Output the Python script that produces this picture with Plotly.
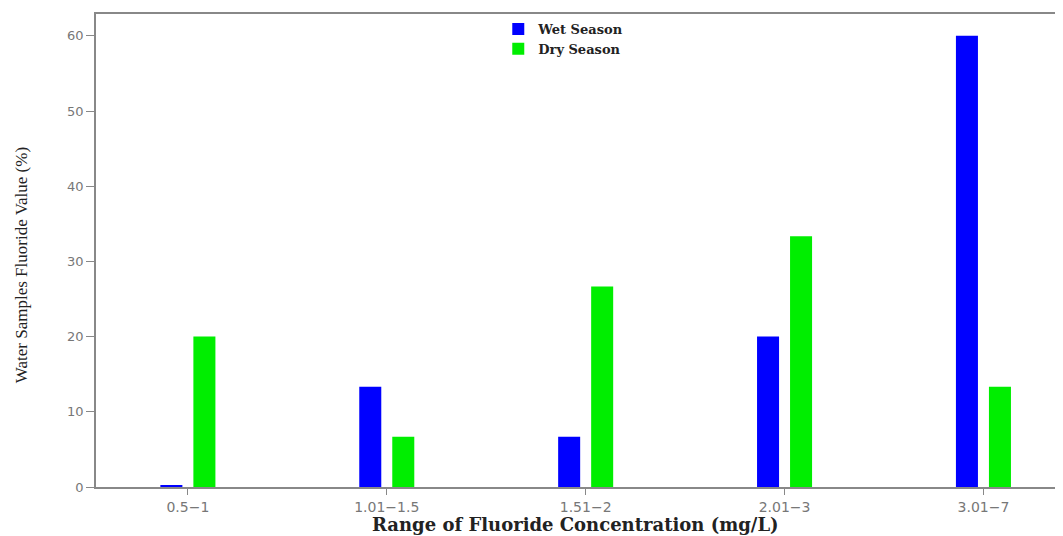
import plotly.graph_objects as go

categories = ["0.5\u22121", "1.01\u22121.5", "1.51\u22122", "2.01\u22123", "3.01\u22127"]
wet_season = [0.2, 13.33, 6.67, 20.0, 60.0]
dry_season = [20.0, 6.67, 26.67, 33.33, 13.33]
y_ticks = [0, 10, 20, 30, 40, 50, 60]

fig = go.Figure()
fig.add_trace(go.Bar(x=categories, y=wet_season, name="Wet Season",
                     marker=dict(color="#0000ff", line=dict(width=0))))
fig.add_trace(go.Bar(x=categories, y=dry_season, name="Dry Season",
                     marker=dict(color="#00ee00", line=dict(width=0))))

fig.update_layout(
    width=1055, height=528,
    margin=dict(l=88, r=0, t=6, b=49),
    paper_bgcolor="white", plot_bgcolor="white",
    barmode="group", bargap=0.668, bargroupgap=0.333,
    showlegend=True,
    legend=dict(x=0.416, y=1.0, xanchor="left", yanchor="top",
                font=dict(family="DejaVu Serif", size=13, color="#222", weight="bold"),
                bgcolor="rgba(0,0,0,0)", itemwidth=30, tracegroupgap=0,
                traceorder="normal"),
    xaxis=dict(
        range=[-0.462, 4.40], automargin=False,
        showline=True, linecolor="#888", linewidth=1.5, mirror=True,
        ticks="outside", ticklen=6, tickcolor="#888",
        tickfont=dict(family="DejaVu Sans", size=14, color="#777"),
        showgrid=False, zeroline=False,
    ),
    yaxis=dict(
        range=[0, 62.9], tickvals=y_ticks, automargin=False,
        showline=True, linecolor="#888", linewidth=1.5,
        ticks="outside", ticklen=8, tickcolor="#888",
        tickfont=dict(family="DejaVu Sans", size=13, color="#777"),
        showgrid=False, zeroline=False,
    ),
    annotations=[
        dict(
            text="Water Samples Fluoride Value (%)",
            xref="paper", yref="paper", x=-0.077, y=0.468,
            xanchor="center", yanchor="middle", textangle=-90, showarrow=False,
            font=dict(family="Liberation Serif", size=17, color="#222"),
        ),
        dict(
            text="<b>Range of Fluoride Concentration (mg/L)</b>",
            xref="paper", yref="paper", x=0.496, y=0, yshift=-37,
            xanchor="center", yanchor="middle", showarrow=False,
            font=dict(family="DejaVu Serif", size=18, color="#222"),
        ),
    ],
)

fig.write_html("out.html")
